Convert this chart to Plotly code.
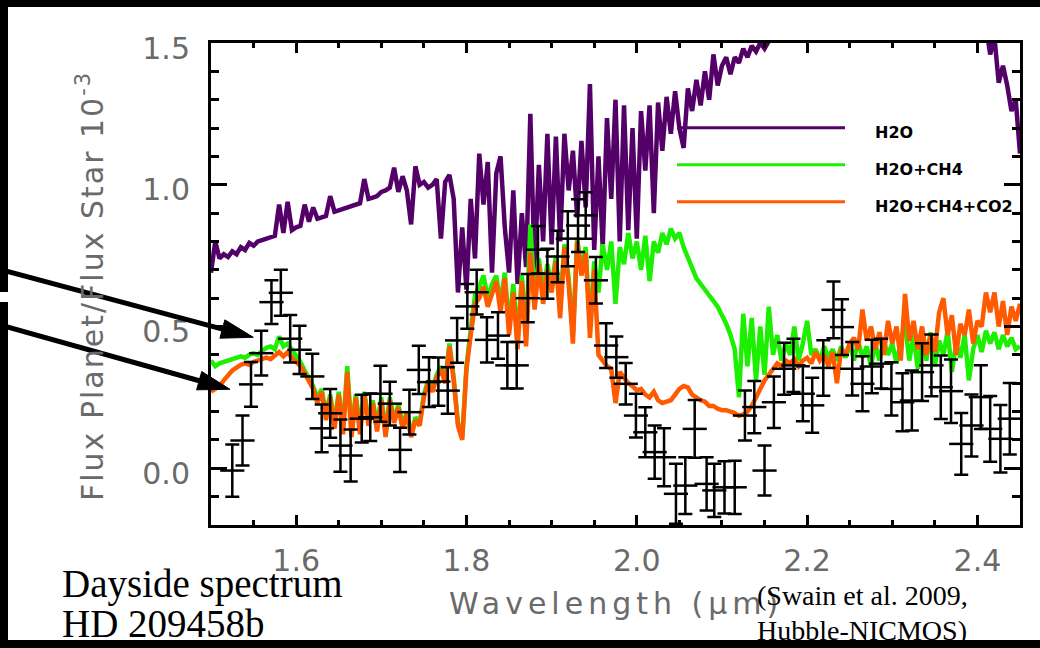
import math
import numpy as np
import plotly.graph_objects as go

# ---------------------------------------------------------------------------
# Model spectra, sampled on a 0.005 micron wavelength grid (1.500 - 2.450)
# ---------------------------------------------------------------------------
MODEL_WAVE = np.round(np.linspace(1.500, 2.450, 191), 3)

# H2O only: runs off the top of the frame between ~2.16 and ~2.41 micron
H2O = [
    0.69, 0.80, 0.74, 0.755, 0.745, 0.765, 0.755, 0.78, 0.77, 0.795,
    0.785, 0.80, 0.805, 0.81, 0.815, 0.82, 0.93, 0.83, 0.94, 0.84,
    0.85, 0.855, 0.93, 0.87, 0.92, 0.88, 0.885, 0.89, 0.96, 0.905,
    0.91, 0.915, 0.92, 0.925, 0.93, 0.935, 1.02, 0.95, 0.955, 0.96,
    0.975, 0.98, 0.99, 1.06, 0.975, 1.03, 0.98, 0.86, 1.065, 1.0,
    1.01, 0.99, 1.0, 1.02, 0.81, 1.01, 1.035, 0.95, 0.62, 0.85,
    0.63, 0.95, 0.74, 1.11, 0.93, 1.08, 0.69, 1.04, 1.10, 0.85,
    0.69, 0.98, 0.65, 0.90, 0.71, 1.25, 0.70, 1.07, 0.80, 1.18,
    0.79, 1.17, 0.80, 1.18, 0.98, 1.12, 0.885, 1.155, 0.92, 1.355,
    0.77, 1.10, 0.78, 1.235, 0.95, 1.30, 0.80, 1.28, 0.84, 1.20,
    0.81, 1.26, 1.05, 1.28, 0.90, 1.29, 1.12, 1.31, 1.18, 1.33,
    1.20, 1.13, 1.34, 1.26, 1.37, 1.28, 1.40, 1.30, 1.46, 1.35,
    1.42, 1.45, 1.39, 1.45, 1.43, 1.48, 1.45, 1.49, 1.47, 1.50,
    1.48, 1.51, 1.53, 1.56,
] + [None] * 48 + [
    1.56, 1.46, 1.52, 1.36, 1.42, 1.35, 1.26, 1.30, 1.11,
]

# H2O + CH4
H2O_CH4 = [
    0.38, 0.36, 0.37, 0.375, 0.38, 0.385, 0.39, 0.395, 0.39, 0.40,
    0.405, 0.40, 0.415, 0.425, 0.43, 0.42, 0.465, 0.43, 0.44, 0.42,
    0.40, 0.375, 0.345, 0.32, 0.29, 0.245, 0.28, 0.19, 0.26, 0.16,
    0.27, 0.14, 0.36, 0.13, 0.26, 0.14, 0.27, 0.17, 0.24, 0.15,
    0.25, 0.13, 0.25, 0.17, 0.225, 0.15, 0.20, 0.12, 0.18, 0.16,
    0.26, 0.31, 0.28, 0.33, 0.36, 0.31, 0.44, 0.32, 0.16, 0.11,
    0.36, 0.49, 0.61, 0.64, 0.68, 0.60, 0.65, 0.68, 0.58, 0.69,
    0.50, 0.65, 0.45, 0.68, 0.46, 0.86, 0.60, 0.74, 0.62, 0.72,
    0.64, 0.75, 0.56, 0.79, 0.67, 0.47, 0.81, 0.70, 0.78, 0.50,
    0.73, 0.62, 0.79, 0.70, 0.80, 0.58, 0.78, 0.72, 0.83, 0.74,
    0.80, 0.70, 0.82, 0.66, 0.80, 0.76, 0.83, 0.79, 0.845, 0.81,
    0.83, 0.78, 0.74, 0.70, 0.67, 0.65, 0.63, 0.61, 0.59, 0.57,
    0.54, 0.51, 0.47, 0.42, 0.25, 0.545, 0.36, 0.53, 0.31, 0.50,
    0.33, 0.57, 0.40, 0.47, 0.38, 0.44, 0.40, 0.50, 0.38, 0.44,
    0.52, 0.40, 0.42, 0.38, 0.43, 0.39, 0.42, 0.38, 0.43, 0.39,
    0.44, 0.38, 0.45, 0.39, 0.43, 0.36, 0.44, 0.38, 0.45, 0.40,
    0.44, 0.37, 0.45, 0.51, 0.38, 0.47, 0.35, 0.46, 0.38, 0.48,
    0.36, 0.45, 0.40, 0.485, 0.34, 0.44, 0.39, 0.47, 0.31, 0.42,
    0.47, 0.41, 0.485, 0.44, 0.48, 0.42, 0.47, 0.43, 0.46, 0.42,
    0.43,
]

# H2O + CH4 + CO2
H2O_CH4_CO2 = [
    0.27, 0.28, 0.29, 0.31, 0.33, 0.345, 0.355, 0.365, 0.37, 0.365,
    0.375, 0.38, 0.385, 0.39, 0.385, 0.40, 0.41, 0.395, 0.41, 0.39,
    0.375, 0.36, 0.335, 0.31, 0.28, 0.23, 0.27, 0.17, 0.25, 0.14,
    0.26, 0.12, 0.34, 0.11, 0.25, 0.12, 0.26, 0.15, 0.23, 0.13,
    0.24, 0.11, 0.24, 0.16, 0.215, 0.14, 0.19, 0.11, 0.17, 0.15,
    0.25, 0.30, 0.27, 0.32, 0.35, 0.30, 0.43, 0.31, 0.15, 0.10,
    0.35, 0.47, 0.58, 0.60, 0.64, 0.57, 0.62, 0.66, 0.55, 0.67,
    0.47, 0.62, 0.42, 0.66, 0.43, 0.76, 0.56, 0.72, 0.58, 0.70,
    0.62, 0.73, 0.53, 0.78, 0.65, 0.44, 0.80, 0.68, 0.76, 0.46,
    0.70, 0.40, 0.38, 0.36, 0.35, 0.23, 0.34, 0.32, 0.30, 0.29,
    0.275, 0.28, 0.26, 0.25, 0.27, 0.24, 0.23, 0.235, 0.24, 0.26,
    0.28, 0.29, 0.285, 0.26, 0.25, 0.24, 0.235, 0.22, 0.22, 0.21,
    0.205, 0.205, 0.20, 0.195, 0.185, 0.19, 0.20, 0.22, 0.25, 0.28,
    0.31, 0.33, 0.35, 0.37, 0.36, 0.38, 0.37, 0.385, 0.36, 0.38,
    0.39, 0.37, 0.41, 0.38, 0.40, 0.36, 0.41, 0.30, 0.42, 0.40,
    0.44, 0.46, 0.42, 0.56, 0.45, 0.50, 0.42, 0.48, 0.40, 0.52,
    0.44, 0.50, 0.38, 0.615, 0.45, 0.52, 0.42, 0.50, 0.40, 0.47,
    0.41, 0.55, 0.60, 0.47, 0.54, 0.40, 0.51, 0.47, 0.56, 0.44,
    0.52, 0.50, 0.62, 0.55, 0.62, 0.50, 0.59, 0.47, 0.57, 0.52,
    0.58,
]

# ---------------------------------------------------------------------------
# NICMOS dayside measurements
# ---------------------------------------------------------------------------
OBS_WAVE = [
    1.525, 1.537, 1.547, 1.559, 1.571, 1.582, 1.593, 1.604, 1.619, 1.630,
    1.640, 1.652, 1.664, 1.677, 1.687, 1.699, 1.710, 1.722, 1.733, 1.744,
    1.756, 1.767, 1.778, 1.789, 1.801, 1.812, 1.824, 1.837, 1.848, 1.859,
    1.872, 1.884, 1.895, 1.907, 1.919, 1.931, 1.940, 1.952, 1.964, 1.976,
    1.987, 1.999, 2.010, 2.021, 2.032, 2.046, 2.057, 2.068, 2.082, 2.091,
    2.103, 2.115, 2.127, 2.138, 2.150, 2.161, 2.173, 2.184, 2.195, 2.206,
    2.219, 2.231, 2.241, 2.253, 2.265, 2.276, 2.287, 2.299, 2.312, 2.323,
    2.335, 2.346, 2.357, 2.369, 2.381, 2.393, 2.404, 2.415, 2.427, 2.438,
]
OBS_FLUX = [
    -0.008, 0.098, 0.296, 0.406, 0.586, 0.619, 0.457, 0.418, 0.324, 0.141,
    0.194, 0.080, 0.045, 0.175, 0.180, 0.263, 0.228, 0.065, 0.198, 0.347,
    0.304, 0.306, 0.274, 0.451, 0.571, 0.621, 0.453, 0.468, 0.363, 0.363,
    0.600, 0.771, 0.686, 0.747, 0.810, 0.856, 0.892, 0.663, 0.433, 0.392,
    0.298, 0.186, 0.127, 0.057, 0.039, -0.090, -0.061, 0.139, -0.055, -0.078,
    -0.067, -0.067, 0.186, 0.216, -0.008, 0.233, 0.351, 0.363, 0.263, 0.222,
    0.354, 0.559, 0.498, 0.351, 0.298, 0.359, 0.369, 0.280, 0.233, 0.239,
    0.339, 0.363, 0.286, 0.272, 0.086, 0.151, 0.251, 0.139, 0.104, 0.175,
]
OBS_ERR = [
    0.092, 0.088, 0.079, 0.079, 0.077, 0.081, 0.084, 0.085, 0.080, 0.084,
    0.086, 0.092, 0.092, 0.084, 0.084, 0.099, 0.077, 0.078, 0.079, 0.085,
    0.088, 0.085, 0.082, 0.079, 0.079, 0.079, 0.080, 0.082, 0.082, 0.082,
    0.085, 0.084, 0.088, 0.091, 0.097, 0.093, 0.082, 0.082, 0.079, 0.073,
    0.073, 0.077, 0.088, 0.094, 0.102, 0.106, 0.100, 0.102, 0.094, 0.094,
    0.092, 0.094, 0.088, 0.092, 0.088, 0.091, 0.092, 0.094, 0.097, 0.097,
    0.098, 0.100, 0.098, 0.094, 0.097, 0.094, 0.088, 0.094, 0.102, 0.106,
    0.102, 0.109, 0.112, 0.112, 0.109, 0.109, 0.112, 0.116, 0.119, 0.126,
]
OBS_BIN_HALFWIDTH = 0.0142

X_TICKS = [1.6, 1.8, 2.0, 2.2, 2.4]
Y_TICKS = [0.0, 0.5, 1.0, 1.5]
MODEL_NAMES = ["H2O", "H2O+CH4", "H2O+CH4+CO2"]
MODEL_COLORS = ["#540069", "#1cf000", "#ff5a00"]

for series in (H2O, H2O_CH4, H2O_CH4_CO2):
    assert len(series) == len(MODEL_WAVE)
assert len(OBS_WAVE) == len(OBS_FLUX) == len(OBS_ERR)

# ---------------------------------------------------------------------------
# Page geometry (pixels) and helpers to place decorations in paper units
# ---------------------------------------------------------------------------
W, H = 1040, 648
ML, MR, MT, MB = 211, 20, 43, 123
PW, PH = W - ML - MR, H - MT - MB


def px(x):
    return (x - ML) / PW


def py(y):
    return (H - MB - y) / PH


AXIS_FONT = dict(family="DejaVu Sans", color="#6a6a6a")


def spaced(text, px_gap):
    return f'<span style="letter-spacing:{px_gap}px">{text}</span>'


fig = go.Figure()

for name, ys, color in zip(MODEL_NAMES, [H2O, H2O_CH4, H2O_CH4_CO2], MODEL_COLORS):
    fig.add_trace(go.Scatter(
        x=MODEL_WAVE, y=ys, mode="lines", name=name,
        line=dict(color=color, width=4.5), connectgaps=False,
        showlegend=False, hoverinfo="skip",
    ))

fig.add_trace(go.Scatter(
    x=OBS_WAVE, y=OBS_FLUX, mode="markers", name="NICMOS",
    marker=dict(size=2, color="black"),
    error_x=dict(type="constant", value=OBS_BIN_HALFWIDTH, width=0,
                 thickness=2.5, color="black"),
    error_y=dict(type="data", array=OBS_ERR, width=7,
                 thickness=2.5, color="black"),
    showlegend=False,
))

shapes = [
    # white slide panel behind the figure
    dict(type="rect", xref="paper", yref="paper", layer="below",
         x0=px(8), x1=px(1045), y0=py(640), y1=py(7),
         fillcolor="white", line=dict(width=0)),
    dict(type="rect", xref="paper", yref="paper", layer="below",
         x0=px(-2), x1=px(9), y0=py(302), y1=py(292),
         fillcolor="white", line=dict(width=0)),
]

# hand-drawn legend: long line samples with labels
for i, (name, color) in enumerate(zip(MODEL_NAMES, MODEL_COLORS)):
    yl = 127.7 + 37 * i
    shapes.append(dict(type="line", xref="paper", yref="paper",
                       x0=px(677), x1=px(845), y0=py(yl), y1=py(yl),
                       line=dict(color=color, width=3)))


def arrow(tail, tip, head_len=32, head_half=9.5, width=5):
    (x0, y0), (x1, y1) = tail, tip
    dx, dy = x1 - x0, y1 - y0
    n = math.hypot(dx, dy)
    ux, uy = dx / n, dy / n
    bx, by = x1 - head_len * ux, y1 - head_len * uy
    nx, ny = -uy, ux
    c1 = (bx + head_half * nx, by + head_half * ny)
    c2 = (bx - head_half * nx, by - head_half * ny)
    line = dict(type="line", xref="paper", yref="paper", layer="above",
                x0=px(x0), y0=py(y0), x1=px(bx + 2 * ux), y1=py(by + 2 * uy),
                line=dict(color="black", width=width))
    head = dict(type="path", xref="paper", yref="paper", layer="above",
                path=(f"M {px(x1)},{py(y1)} L {px(c1[0])},{py(c1[1])} "
                      f"L {px(c2[0])},{py(c2[1])} Z"),
                fillcolor="black", line=dict(color="black", width=1))
    return [line, head]


shapes += arrow((0, 269.5), (253.3, 337.3))
shapes += arrow((0, 325.0), (230.0, 389.3))

annotations = []
for i, name in enumerate(MODEL_NAMES):
    annotations.append(dict(
        text=name, xref="paper", yref="paper", x=px(873), y=py(132.3 + 37 * i),
        xanchor="left", yanchor="middle", showarrow=False,
        font=dict(family="DejaVu Sans", size=16, color="black", weight="bold"),
    ))

annotations += [
    dict(text=spaced("Wavelength (\u03bcm)", 5), xref="paper", yref="paper",
         x=px(447), y=py(603), xanchor="left", yanchor="middle",
         showarrow=False, font=dict(size=30, **AXIS_FONT)),
    dict(text=spaced("Flux Planet/Flux Star 10<sup>-3</sup>", 2),
         xref="paper", yref="paper",
         x=px(90), y=py(286), xanchor="center", yanchor="middle",
         textangle=-90, showarrow=False, font=dict(size=30, **AXIS_FONT)),
    dict(text="Dayside spectrum", xref="paper", yref="paper",
         x=px(60), y=py(584), xanchor="left", yanchor="middle", showarrow=False,
         font=dict(family="Liberation Serif", size=39, color="black")),
    dict(text="HD 209458b", xref="paper", yref="paper",
         x=px(60), y=py(623), xanchor="left", yanchor="middle", showarrow=False,
         font=dict(family="Liberation Serif", size=39, color="black")),
    dict(text="(Swain et al. 2009,", xref="paper", yref="paper",
         x=px(755), y=py(595.5), xanchor="left", yanchor="middle", showarrow=False,
         font=dict(family="Liberation Serif", size=28, color="black")),
    dict(text="Hubble-NICMOS)", xref="paper", yref="paper",
         x=px(755), y=py(630.5), xanchor="left", yanchor="middle", showarrow=False,
         font=dict(family="Liberation Serif", size=28, color="black")),
]

fig.update_layout(
    width=W, height=H,
    margin=dict(l=ML, r=MR, t=MT, b=MB, pad=0),
    paper_bgcolor="black", plot_bgcolor="white",
    shapes=shapes, annotations=annotations,
    showlegend=False,
    xaxis=dict(
        range=[1.5, 2.45], tickvals=X_TICKS, ticktext=[f"{v:.1f}" for v in X_TICKS],
        ticks="inside", ticklen=10, tickwidth=2.5, tickcolor="black",
        showline=True, linecolor="black", linewidth=3, mirror="ticks",
        showgrid=False, zeroline=False,
        tickfont=dict(size=30, **AXIS_FONT), ticklabelstandoff=7,
        minor=dict(dtick=0.05, tick0=1.5, ticks="inside", ticklen=5,
                   tickwidth=2.5, tickcolor="black", showgrid=False),
    ),
    yaxis=dict(
        range=[-0.2, 1.5], tickvals=Y_TICKS, ticktext=[f"{v:.1f}" for v in Y_TICKS],
        ticks="inside", ticklen=16, tickwidth=2.5, tickcolor="black",
        showline=True, linecolor="black", linewidth=3, mirror="ticks",
        showgrid=False, zeroline=False,
        tickfont=dict(size=30, **AXIS_FONT), ticklabelstandoff=12,
        ticklabelshift=5,
        minor=dict(dtick=0.1, tick0=0, ticks="inside", ticklen=8,
                   tickwidth=2.5, tickcolor="black", showgrid=False),
    ),
)

fig.write_html("out.html")
